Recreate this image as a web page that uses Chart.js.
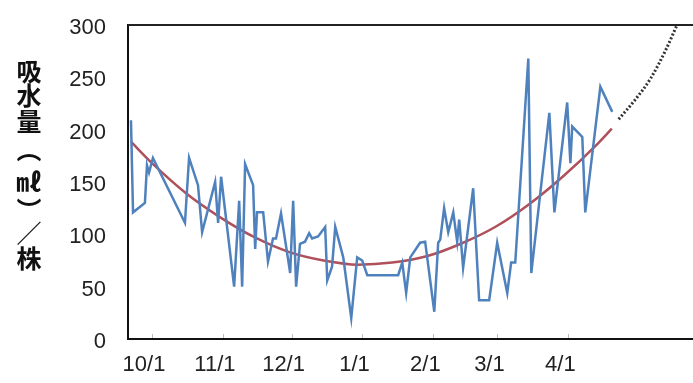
<!DOCTYPE html>
<html>
<head>
<meta charset="utf-8">
<script src="https://cdn.jsdelivr.net/npm/chart.js@4.4.1/dist/chart.umd.min.js"></script>
<style>
  body { margin: 0; background: #fff; }
  #wrap { position: relative; width: 693px; height: 383px; }
  .yt { position: absolute; left: 29px; transform: translate(-50%, -50%);
        font: bold 25px 'Noto Sans CJK JP', sans-serif; color: #111; line-height: 1; }
  .yt.rot { transform: translate(-50%, -50%) rotate(90deg); }
</style>
</head>
<body>
<div id="wrap">
  <canvas id="waterChart"></canvas>
  <span class="yt" style="top:70px">吸</span>
  <span class="yt" style="top:94px">水</span>
  <span class="yt" style="top:120px">量</span>
  <span class="yt rot" style="top:150px">（</span>
  <span class="yt" style="top:180px">㎖</span>
  <span class="yt rot" style="top:210px">）</span>
  <span class="yt" style="top:232px">／</span>
  <span class="yt" style="top:257px">株</span>
</div>
<script>
// days counted from 10/1
var monthDays = [0, 31, 61, 92, 123, 151, 182];
var monthLabels = ['10/1', '11/1', '12/1', '1/1', '2/1', '3/1', '4/1'];

// daily water uptake (ml / plant)
var blueDays = [-9.2, -8.3, -3.1, -2.2, -1.3, 0.4, 14.4, 16.2, 20.1, 21.9, 27.6, 28.9, 30.2,
  35.9, 38.1, 39.4, 40.7, 44.2, 45.1, 45.9, 48.6, 50.7, 52.9, 54.2, 56.4,
  60.4, 61.7, 63.0, 64.7, 66.9, 68.7, 70.0, 72.6, 75.7, 76.6, 78.7, 80.1, 83.6, 87.1, 89.7, 91.9, 94.1,
  107.6, 109.4, 111.1, 112.9, 117.2, 119.4, 123.4, 125.1, 126.0, 127.7, 129.5, 131.7, 133.4, 134.3, 136.0,
  140.4, 143.0, 147.4, 150.9, 155.3, 157.0, 158.8, 164.5, 165.8, 173.7, 175.9, 181.5, 182.9, 183.7, 188.1, 189.4, 196.0, 201.2];
var blueValues = [209, 121, 130, 166, 159, 173, 111, 173, 147, 102, 150, 111, 155,
  50, 132, 50, 167, 147, 86, 121, 121, 74, 96, 96, 120,
  63, 132, 50, 91, 93, 101, 96, 98, 107, 56, 69, 107, 78, 20, 78, 75, 61,
  61, 73, 44, 78, 92, 93, 26, 92, 95, 125, 102, 121, 93, 114, 68,
  144, 37, 37, 92, 44, 73, 73, 268, 63, 216, 121, 226, 168, 203, 193, 121, 241, 217];

// trend curve
var trendDays = [-9, 0, 15, 30, 45, 60, 75, 90, 105, 120, 135, 150, 165, 180, 195, 201];
var trendValues = [188, 168, 139, 116, 97, 83, 75, 71, 73, 79, 91, 107, 129, 156, 187, 201];

// extrapolated part (dotted)
var extDays = [204, 211, 218, 225, 229.5];
var extValues = [210, 228, 249, 278, 300];

function toPoints(xs, ys) {
  var pts = [];
  for (var i = 0; i < xs.length; i++) pts.push({ x: xs[i], y: ys[i] });
  return pts;
}

var frame = {
  id: 'frame',
  afterDraw: function(chart) {
    var ctx = chart.ctx, a = chart.chartArea, x = chart.scales.x;
    ctx.save();
    ctx.strokeStyle = '#222';
    ctx.lineWidth = 2;
    ctx.beginPath();
    ctx.moveTo(a.left, a.top);
    ctx.lineTo(a.right, a.top);
    ctx.stroke();
    ctx.strokeStyle = '#bbb';
    ctx.lineWidth = 1;
    monthDays.forEach(function(d) {
      var px = Math.round(x.getPixelForValue(d)) + 0.5;
      ctx.beginPath();
      ctx.moveTo(px, a.bottom - 1);
      ctx.lineTo(px, a.bottom - 5);
      ctx.stroke();
    });
    ctx.restore();
  }
};

var tickFont = { family: "'Liberation Sans', Arial, sans-serif", size: 22 };

new Chart(document.getElementById('waterChart'), {
  type: 'line',
  data: {
    datasets: [{
      data: toPoints(blueDays, blueValues),
      borderColor: '#4F81BD',
      borderWidth: 2.5,
      pointRadius: 0,
      tension: 0
    }, {
      data: toPoints(trendDays, trendValues),
      borderColor: '#B0505A',
      borderWidth: 2.5,
      pointRadius: 0,
      cubicInterpolationMode: 'monotone'
    }, {
      data: toPoints(extDays, extValues),
      borderColor: '#333',
      borderWidth: 3,
      borderDash: [2, 2],
      pointRadius: 0,
      cubicInterpolationMode: 'monotone'
    }]
  },
  options: {
    responsive: true,
    maintainAspectRatio: false,
    animation: false,
    layout: { padding: { top: 25, right: 0, bottom: 0, left: 0 } },
    plugins: { legend: { display: false }, tooltip: { enabled: false } },
    scales: {
      x: {
        type: 'linear',
        min: -10.5,
        max: 236.5,
        grid: { display: false },
        border: { display: true, color: '#111', width: 2 },
        afterBuildTicks: function(s) {
          s.ticks = monthDays.map(function(d) { return { value: d }; });
        },
        afterFit: function(s) { s.height = 44; s.paddingLeft = 0; s.paddingRight = 0; },
        ticks: {
          autoSkip: false,
          maxRotation: 0,
          padding: 5,
          labelOffset: -8,
          color: '#222',
          font: tickFont,
          callback: function(v) {
            var i = monthDays.indexOf(v);
            return i >= 0 ? monthLabels[i] : '';
          }
        }
      },
      y: {
        min: 0,
        max: 300,
        grid: { display: false },
        border: { display: true, color: '#111', width: 2 },
        afterFit: function(s) { s.width = 128; s.paddingTop = 0; s.paddingBottom = 0; },
        ticks: { stepSize: 50, padding: 14, labelOffset: 3, color: '#222', font: tickFont }
      }
    }
  },
  plugins: [frame]
});
</script>
</body>
</html>
